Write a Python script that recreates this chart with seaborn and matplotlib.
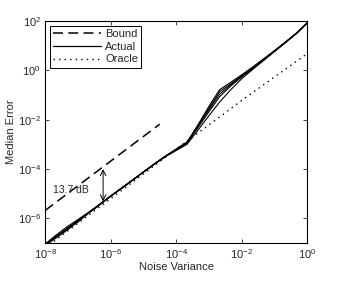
import numpy as np
import pandas as pd
import matplotlib
matplotlib.use("Agg")
import matplotlib.pyplot as plt
from matplotlib.lines import Line2D
import seaborn as sns

# noise variance grid (log10), 1/3 decade steps
x_exp = [-8, -7.67, -7.33, -7, -6.67, -6.33, -6, -5.67, -5.33, -5, -4.67, -4.33,
         -4, -3.67, -3.33, -3, -2.67, -2.33, -2, -1.67, -1.33, -1, -0.67, -0.33, 0]

# median error of each trial (log10)
actual_1 = [-7.08, -6.75, -6.42, -6.10, -5.77, -5.43, -5.10, -4.78, -4.45, -4.12, -3.80, -3.48,
            -3.20, -2.92, -2.22, -1.54, -0.86, -0.54, -0.22, 0.10, 0.44, 0.78, 1.13, 1.50, 1.92]
actual_2 = [-7.04, -6.68, -6.34, -6.05, -5.75, -5.42, -5.09, -4.77, -4.44, -4.12, -3.80, -3.49,
            -3.22, -2.95, -2.20, -1.46, -0.78, -0.48, -0.18, 0.13, 0.47, 0.80, 1.14, 1.51, 1.92]
actual_3 = [-7.10, -6.80, -6.48, -6.13, -5.79, -5.45, -5.11, -4.79, -4.46, -4.13, -3.81, -3.50,
            -3.25, -3.00, -2.42, -1.84, -1.28, -0.78, -0.34, 0.03, 0.40, 0.76, 1.12, 1.49, 1.91]
actual_4 = [-7.12, -6.76, -6.40, -6.08, -5.76, -5.44, -5.10, -4.78, -4.45, -4.12, -3.80, -3.48,
            -3.21, -2.94, -2.32, -1.68, -1.06, -0.63, -0.27, 0.07, 0.42, 0.77, 1.12, 1.50, 1.92]
actual_5 = [-7.06, -6.72, -6.45, -6.15, -5.78, -5.44, -5.10, -4.78, -4.45, -4.12, -3.80, -3.48,
            -3.19, -2.90, -2.26, -1.60, -0.96, -0.58, -0.24, 0.09, 0.43, 0.79, 1.14, 1.50, 1.93]

# oracle (log10)
oracle_x_exp = [-8, -6, -4, -2, 0]
oracle_exp = [-7.2, -5.2, -3.2, -1.22, 0.68]

# bound (log10)
bound_x_exp = [-8, -4.5]
bound_exp = [-5.68, -2.18]

gap_x = 5.9e-7
gap_top = 1.0e-4
gap_bottom = 4.9e-6
gap_text = "13.7 dB"

trials = [actual_1, actual_2, actual_3, actual_4, actual_5]
rows = []
for i, t in enumerate(trials):
    for xe, ye in zip(x_exp, t):
        rows.append({"trial": i, "x": 10.0 ** xe, "y": 10.0 ** ye})
df = pd.DataFrame(rows)
df_oracle = pd.DataFrame({"x": 10.0 ** np.array(oracle_x_exp), "y": 10.0 ** np.array(oracle_exp)})
df_bound = pd.DataFrame({"x": 10.0 ** np.array(bound_x_exp), "y": 10.0 ** np.array(bound_exp)})

sns.set_style("ticks")
plt.rcParams["font.family"] = ["Liberation Sans", "DejaVu Sans"]
plt.rcParams["mathtext.fontset"] = "custom"
plt.rcParams["mathtext.rm"] = "Liberation Sans"
plt.rcParams["mathtext.it"] = "Liberation Sans:italic"
plt.rcParams["mathtext.bf"] = "Liberation Sans:bold"

fig = plt.figure(figsize=(3.39, 2.81), dpi=100)
ax = fig.add_axes([0.133, 0.135, 0.773, 0.790])

sns.lineplot(data=df_bound, x="x", y="y", ax=ax, color="black", lw=1.1,
             dashes=False, linestyle=(0, (6.5, 3.5)))
sns.lineplot(data=df, x="x", y="y", units="trial", estimator=None, ax=ax,
             color="black", lw=0.8)
sns.lineplot(data=df_oracle, x="x", y="y", ax=ax, color="black", lw=1.0,
             linestyle=(0, (1, 3)))

ax.set_xscale("log")
ax.set_yscale("log")
ax.set_xlim(1e-8, 1)
ax.set_ylim(1e-7, 1e2)

ax.annotate("", xy=(gap_x, gap_top), xytext=(gap_x, gap_bottom),
            arrowprops=dict(arrowstyle="<->,head_length=0.4,head_width=0.2",
                            color="black", lw=0.7, shrinkA=0, shrinkB=0))
ax.text(10 ** -7.2, 10 ** -4.83, gap_text, fontsize=7.5, ha="center", va="center")

xt = [1e-8, 1e-6, 1e-4, 1e-2, 1]
yt = [1e-6, 1e-4, 1e-2, 1, 1e2]
ax.set_xticks(xt)
ax.set_xticklabels(["$10^{-8}$", "$10^{-6}$", "$10^{-4}$", "$10^{-2}$", "$10^{0}$"])
ax.set_yticks(yt)
ax.set_yticklabels(["$10^{-6}$", "$10^{-4}$", "$10^{-2}$", "$10^{0}$", "$10^{2}$"])
ax.minorticks_off()
ax.tick_params(direction="in", length=3, width=0.6, labelsize=8,
               top=True, right=True, pad=3)
for s in ax.spines.values():
    s.set_visible(True)
    s.set_linewidth(0.8)
    s.set_color("black")

ax.set_xlabel("Noise Variance", fontsize=8, labelpad=1)
ax.set_ylabel("Median Error", fontsize=8, labelpad=1)

handles = [Line2D([], [], color="black", lw=1.1, linestyle=(0, (6.5, 3.5))),
           Line2D([], [], color="black", lw=0.9),
           Line2D([], [], color="black", lw=1.0, linestyle=(0, (1, 3)))]
leg = ax.legend(handles, ["Bound", "Actual", "Oracle"], loc="upper left",
                fontsize=8, handlelength=4.3, handletextpad=0.4,
                labelspacing=0.25, borderaxespad=0.4, borderpad=0.3,
                fancybox=False, framealpha=1, edgecolor="black")
leg.get_frame().set_linewidth(0.7)

fig.savefig("out.png", dpi=100)
